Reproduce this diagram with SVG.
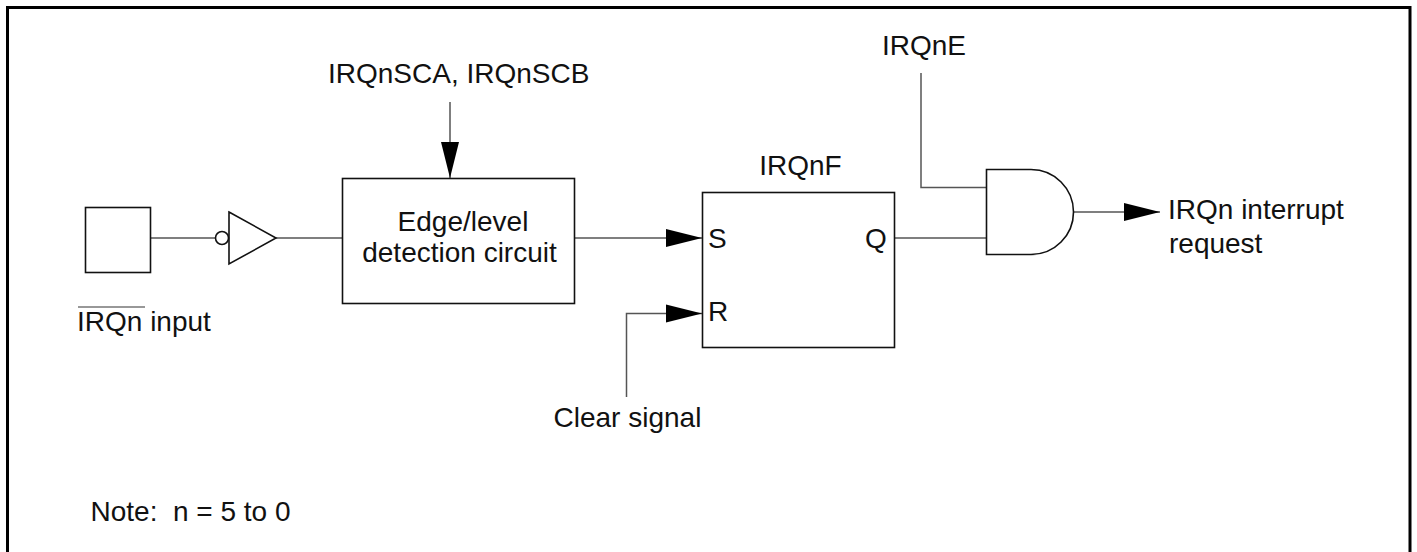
<svg xmlns="http://www.w3.org/2000/svg" width="1417" height="552" viewBox="0 0 1417 552">
<style>
.t{font-family:"Liberation Sans",Arial,sans-serif;font-size:28px;fill:#111;white-space:pre}
.b{fill:#fff;stroke:#111;stroke-width:1.6}
.c{fill:none;stroke:#555;stroke-width:1.5}
.h{fill:#000}
</style>
<defs><polygon id="ah" class="h" points="0,0 -36,-9 -36,9"/></defs>
<rect x="0" y="0" width="1417" height="552" fill="#fff"/>
<path d="M7.500 552V7.500H1410V552" fill="none" stroke="#000" stroke-width="3"/>
<g id="connectors">
<path class="c" d="M151 238H216"/>
<path class="c" d="M276 238H342"/>
<path class="c" d="M450 102V178"/>
<path class="c" d="M575 238H702"/>
<path class="c" d="M626.500 397V313.500H702"/>
<path class="c" d="M921 73V187.500H986"/>
<path class="c" d="M895 238H986"/>
<path class="c" d="M1074 212H1160"/>
<use href="#ah" transform="translate(450 178) rotate(90)"/>
<use href="#ah" x="702" y="238"/>
<use href="#ah" x="702" y="313.500"/>
<use href="#ah" x="1160" y="212"/>
</g>
<g id="pin"><rect class="b" x="85.500" y="207.500" width="65" height="65"/><text class="t" x="77" y="331">IRQn input</text><path d="M78 307H145" stroke="#333" stroke-width="1.200"/></g>
<g id="inverter"><polygon class="b" points="229,212 276,238 229,264"/><circle class="b" cx="222" cy="238" r="6.500"/></g>
<g id="detector"><rect class="b" x="342.500" y="178.500" width="232" height="125"/><text class="t" text-anchor="middle" x="463" y="231">Edge/level</text><text class="t" text-anchor="middle" x="459.500" y="262">detection circuit</text></g>
<g id="flipflop"><rect class="b" x="702.500" y="192.500" width="192" height="155"/><text class="t" x="708" y="248">S</text><text class="t" x="708" y="321">R</text><text class="t" x="865" y="248">Q</text><text class="t" text-anchor="middle" x="800.500" y="175">IRQnF</text></g>
<g id="andgate"><path class="b" d="M986.500 169.500H1031A42.500 42.500 0 0 1 1031 254.500H986.500Z"/></g>
<text class="t" x="328" y="83">IRQnSCA, IRQnSCB</text>
<text class="t" x="882" y="55">IRQnE</text>
<text class="t" x="1168" y="219">IRQn interrupt</text>
<text class="t" x="1169" y="253">request</text>
<text class="t" x="553.500" y="427">Clear signal</text>
<text class="t" x="90.500" y="521">Note:  n = 5 to 0</text>
</svg>
